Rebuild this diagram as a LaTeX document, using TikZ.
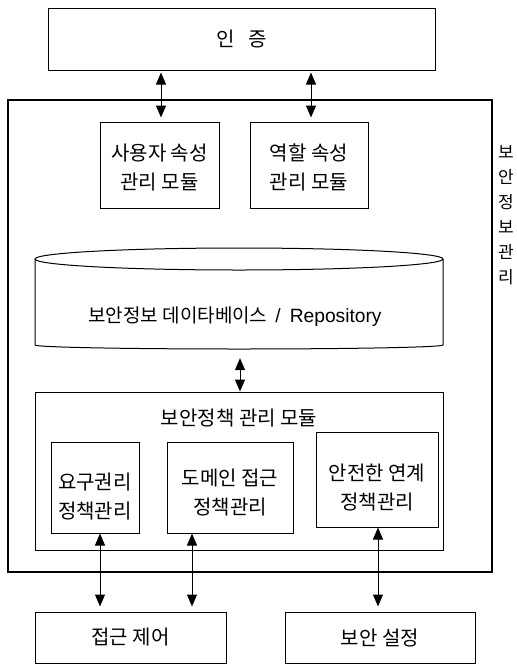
\documentclass[tikz,border=0pt]{standalone}
\usepackage{fontspec}
\setmainfont{Noto Sans CJK KR}
\newfontfamily\latfont{Liberation Sans}
\usetikzlibrary{arrows.meta}
\begin{document}
\begin{tikzpicture}[x=1pt,y=-1pt,
  box/.style={draw,line width=1pt,inner sep=0pt},
  txt/.style={font=\fontsize{20}{29}\selectfont,align=center,inner sep=0pt},
  arr/.style={{Triangle[width=10pt,length=12pt]}-{Triangle[width=10pt,length=12pt]},line width=1pt}
]
\useasboundingbox (0,0) rectangle (517,665);
% coordinates for connector columns
\coordinate (a1) at (161,0);
\coordinate (a2) at (311,0);
\coordinate (a3) at (240,0);
\coordinate (b1) at (100,0);
\coordinate (b2) at (192,0);
\coordinate (b3) at (378,0);

\node[box,txt,minimum width=387pt,minimum height=62pt] (auth) at (241.5,39) {인\hspace{0.7em}증};
\node[draw,line width=2pt,inner sep=0pt,minimum width=484pt,minimum height=472pt] (outer) at (250,336) {};
\node[font=\fontsize{17}{25}\selectfont,align=center,inner sep=0pt] (side) at (506,215) {보\\안\\정\\보\\관\\리};

\node[box,minimum width=119pt,minimum height=86pt] (user) at (159.5,165) {};
\node[txt] (usert) at (159.5,167.5) {사용자 속성\\관리 모듈};
\node[box,minimum width=118pt,minimum height=86pt] (role) at (309,165) {};
\node[txt] (rolet) at (309,167.5) {역할 속성\\관리 모듈};

% database cylinder
\node[inner sep=0pt,minimum width=408pt,minimum height=100pt] (db) at (239,298) {};
\draw[line width=1pt] (35,259) -- (35,345) arc[start angle=180,end angle=0,x radius=204,y radius=4] -- (443,259);
\draw[line width=1pt] (239,259) ellipse [x radius=204,y radius=11];
\node[txt,font=\fontsize{19}{29}\selectfont] (dbt) at (235,317) {보안정보 데이타베이스\hspace{8pt}{\latfont\fontsize{19.2}{29}\selectfont /\hspace{9pt}Repository}};

\node[box,minimum width=408pt,minimum height=158pt] (pol) at (239,471) {};
\node[txt] (polt) at (239,418) {보안정책 관리 모듈};
\node[box,minimum width=88pt,minimum height=91pt] (req) at (95,487.5) {};
\node[txt] (reqt) at (95,496.5) {요구권리\\정책관리};
\node[box,minimum width=126pt,minimum height=91pt] (dom) at (230,487.5) {};
\node[txt] (domt) at (230,493) {도메인 접근\\정책관리};
\node[box,minimum width=122pt,minimum height=95pt] (sec) at (377,479.5) {};
\node[txt] (sect) at (377,487.5) {안전한 연계\\정책관리};

\node[box,txt,minimum width=191pt,minimum height=51pt] (acc) at (130.5,637.5) {접근 제어};
\node[box,txt,minimum width=190pt,minimum height=51pt] (set) at (380,637.5) {보안 설정};

% connectors
\draw[arr,shorten <=2pt,shorten >=4pt] (auth.south -| a1) -- (user.north -| a1);
\draw[arr,shorten <=2pt,shorten >=4pt] (auth.south -| a2) -- (role.north -| a2);
\draw[arr,shorten <=10pt] (db.south -| a3) -- (pol.north -| a3);
\draw[arr,shorten >=5pt] (req.south -| b1) -- (acc.north -| b1);
\draw[arr,shorten >=5pt] (dom.south -| b2) -- (acc.north -| b2);
\draw[arr,shorten >=5pt] (sec.south -| b3) -- (set.north -| b3);
\end{tikzpicture}
\end{document}
